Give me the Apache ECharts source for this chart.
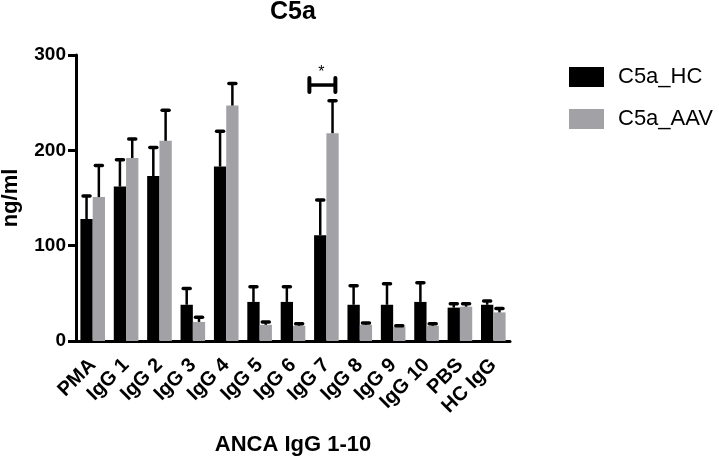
<!DOCTYPE html>
<html>
<head>
<meta charset="utf-8">
<script src="https://cdn.jsdelivr.net/npm/echarts@6/dist/echarts.min.js"></script>
<style>
html,body{margin:0;padding:0;background:#fff;}
#c{width:719px;height:457px;}
</style>
</head>
<body>
<div id="c"></div>
<script>
var categories = ['PMA','IgG 1','IgG 2','IgG 3','IgG 4','IgG 5','IgG 6','IgG 7','IgG 8','IgG 9','IgG 10','PBS','HC IgG'];
var hcMean = [128,162,173,38,183,41,41,111,38,38,41,35,38];
var hcSd   = [24,28,30,17,37,16,16,37,20,22,20,4,4];
var aavMean = [151,192,210,20,247,17,16,218,17,15,16,36,30];
var aavSd   = [33,20,32,5,23,3,2,34,2,1,2,3,4];
var yTicks = [0,100,200,300];
var sigIndex = [7];
var sigLevel = [268.5];
var sigLabel = ['*'];

var BOLD = 'Liberation Sans';
var BAR_W = 12.3;
var GRAY = '#a2a2a6';

function errData(mean, sd){
  return mean.map(function(m,i){ return [i, m, m + sd[i]]; });
}
function errRender(offset){
  return function(params, api){
    var top = api.coord([api.value(0), api.value(2)]);
    var bot = api.coord([api.value(0), api.value(1)]);
    var x = top[0] + offset;
    return {
      type:'group',
      children:[
        {type:'line', shape:{x1:x,y1:bot[1],x2:x,y2:top[1]}, style:{stroke:'#000',lineWidth:2.5}},
        {type:'line', shape:{x1:x-3.5,y1:top[1],x2:x+3.5,y2:top[1]}, style:{stroke:'#000',lineWidth:3.5,lineCap:'round'}}
      ]
    };
  };
}

var chart = echarts.init(document.getElementById('c'), null, {renderer:'canvas'});
chart.setOption({
  animation:false,
  backgroundColor:'#fff',
  title:{
    text:'C5a', left:293, top:0, padding:0, textAlign:'center',
    textStyle:{fontFamily:BOLD, fontWeight:'bold', fontSize:25, color:'#000'}
  },
  legend:{
    orient:'vertical', left:569, top:66, padding:0,
    itemWidth:35, itemHeight:20, itemGap:20,
    icon:'rect',
    data:['C5a_HC','C5a_AAV'],
    textStyle:{fontFamily:'Liberation Sans', fontSize:22, color:'#000', padding:[0,0,0,9]}
  },
  grid:{left:76, top:55, width:434, height:286, containLabel:false, outerBoundsMode:'none'},
  xAxis:{
    type:'category', data:categories,
    name:'ANCA IgG 1-10', nameLocation:'middle', nameGap:93,
    nameTextStyle:{fontFamily:BOLD, fontWeight:'bold', fontSize:22, color:'#000'},
    axisLine:{lineStyle:{color:'#000', width:3}},
    axisTick:{alignWithLabel:true, length:10, lineStyle:{color:'#000', width:3}},
    axisLabel:{rotate:45, margin:21, interval:0, fontFamily:BOLD, fontWeight:'bold', fontSize:20, color:'#000'}
  },
  yAxis:{
    type:'value', min:yTicks[0], max:yTicks[yTicks.length-1], interval:100,
    name:'ng/ml', nameLocation:'middle', nameGap:54, nameRotate:90,
    nameTextStyle:{fontFamily:BOLD, fontWeight:'bold', fontSize:22, color:'#000'},
    axisLine:{show:true, lineStyle:{color:'#000', width:3}},
    axisTick:{show:true, length:8, lineStyle:{color:'#000', width:3}},
    axisLabel:{margin:10, fontFamily:BOLD, fontWeight:'bold', fontSize:19, color:'#000'},
    splitLine:{show:false}
  },
  series:[
    {name:'C5a_HC', type:'bar', data:hcMean, barWidth:BAR_W, barGap:'0%', itemStyle:{color:'#000'}},
    {name:'C5a_AAV', type:'bar', data:aavMean, barWidth:BAR_W, barGap:'0%', itemStyle:{color:GRAY}},
    {type:'custom', data:errData(hcMean,hcSd), renderItem:errRender(-BAR_W/2), z:5, silent:true, encode:{x:0,y:2}},
    {type:'custom', data:errData(aavMean,aavSd), renderItem:errRender(BAR_W/2), z:5, silent:true, encode:{x:0,y:2}},
    {type:'custom', silent:true, z:6,
     data:sigIndex.map(function(c,i){ return [c, sigLevel[i]]; }),
     encode:{x:0,y:1},
     renderItem:function(params, api){
       var p = api.coord([api.value(0), api.value(1)]);
       var x1 = p[0]-17, x2 = p[0]+9, y = p[1];
       return {type:'group', children:[
         {type:'line', shape:{x1:x1,y1:y,x2:x2,y2:y}, style:{stroke:'#000',lineWidth:3.5}},
         {type:'line', shape:{x1:x1,y1:y-7,x2:x1,y2:y+7}, style:{stroke:'#000',lineWidth:4,lineCap:'round'}},
         {type:'line', shape:{x1:x2,y1:y-7,x2:x2,y2:y+7}, style:{stroke:'#000',lineWidth:4,lineCap:'round'}},
         {type:'text', style:{text:sigLabel[params.dataIndex], x:(x1+x2)/2-1, y:y-4, textAlign:'center', textVerticalAlign:'bottom', fontFamily:'Liberation Sans', fontSize:16, fill:'#000'}}
       ]};
     }
    }
  ]
});
</script>
</body>
</html>
